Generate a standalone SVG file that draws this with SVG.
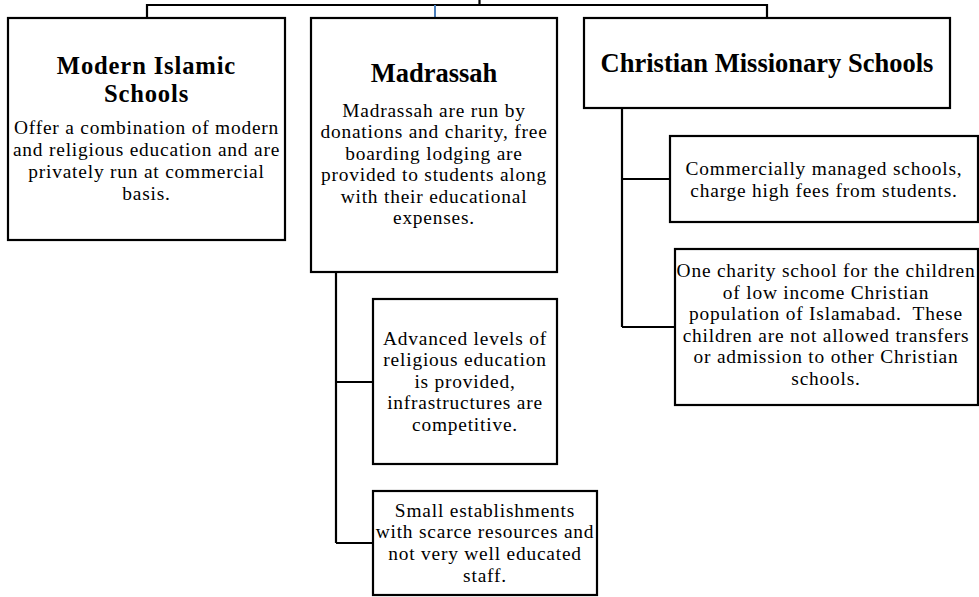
<svg xmlns="http://www.w3.org/2000/svg" width="979" height="597" viewBox="0 0 979 597">
<style>
.box{fill:#fff;stroke:#000;stroke-width:2.2}
.ln{fill:none;stroke:#000;stroke-width:2.2}
.blue{fill:none;stroke:#4a7ebb;stroke-width:2}
.h{font-family:"Liberation Serif","Times New Roman",serif;font-weight:bold;font-size:26.5px;text-anchor:middle;fill:#000}
.h2{font-family:"Liberation Serif","Times New Roman",serif;font-weight:bold;font-size:24.6px;letter-spacing:0.85px;text-anchor:middle;fill:#000}
.t{font-family:"Liberation Serif","Times New Roman",serif;font-size:19.4px;letter-spacing:0.8px;text-anchor:middle;fill:#000}
</style>
<rect width="979" height="597" fill="#fff"/>
<g id="connectors">
<path class="ln" d="M479.5,0 V5 M147,18 V5 H767 V18"/>
<path class="blue" d="M435,5 V18"/>
<path class="ln" d="M336,272 V543 M336,382 H373 M336,543 H373"/>
<path class="ln" d="M622,108 V327 M622,179 H670 M622,327 H675"/>
</g>
<g id="modern-islamic">
<rect class="box" x="8" y="18" width="277" height="222"/>
<text class="h2" x="146.5" y="74.3">Modern Islamic<tspan x="146.5" dy="27.4">Schools</tspan></text>
<text class="t" x="146.5" y="134.3">Offer a combination of modern<tspan x="146.5" dy="22">and religious education and are</tspan><tspan x="146.5" dy="22">privately run at commercial</tspan><tspan x="146.5" dy="22">basis.</tspan></text>
</g>
<g id="madrassah">
<rect class="box" x="311" y="18" width="246" height="254"/>
<text class="h" x="434" y="81.7">Madrassah</text>
<text class="t" x="434" y="116.7">Madrassah are run by<tspan x="434" dy="21.5">donations and charity, free</tspan><tspan x="434" dy="21.5">boarding lodging are</tspan><tspan x="434" dy="21.5">provided to students along</tspan><tspan x="434" dy="21.5">with their educational</tspan><tspan x="434" dy="21.5">expenses.</tspan></text>
</g>
<g id="christian">
<rect class="box" x="584" y="18" width="366" height="90"/>
<text class="h" x="767" y="71.7">Christian Missionary Schools</text>
</g>
<g id="advanced">
<rect class="box" x="373" y="299" width="184" height="165"/>
<text class="t" x="465" y="345">Advanced levels of<tspan x="465" dy="21.4">religious education</tspan><tspan x="465" dy="21.4">is provided,</tspan><tspan x="465" dy="21.4">infrastructures are</tspan><tspan x="465" dy="21.4">competitive.</tspan></text>
</g>
<g id="small">
<rect class="box" x="373" y="491" width="224" height="104"/>
<text class="t" x="485" y="516.7">Small establishments<tspan x="485" dy="21.6">with scarce resources and</tspan><tspan x="485" dy="21.6">not very well educated</tspan><tspan x="485" dy="21.6">staff.</tspan></text>
</g>
<g id="commercial">
<rect class="box" x="670" y="136" width="308" height="86"/>
<text class="t" x="824" y="175">Commercially managed schools,<tspan x="824" dy="21.7">charge high fees from students.</tspan></text>
</g>
<g id="charity">
<rect class="box" x="675" y="249" width="303" height="156"/>
<text class="t" x="826" y="277" xml:space="preserve">One charity school for the children<tspan x="826" dy="21.5">of low income Christian</tspan><tspan x="826" dy="21.5">population of Islamabad.  These</tspan><tspan x="826" dy="21.5">children are not allowed transfers</tspan><tspan x="826" dy="21.5">or admission to other Christian</tspan><tspan x="826" dy="21.5">schools.</tspan></text>
</g>
</svg>
